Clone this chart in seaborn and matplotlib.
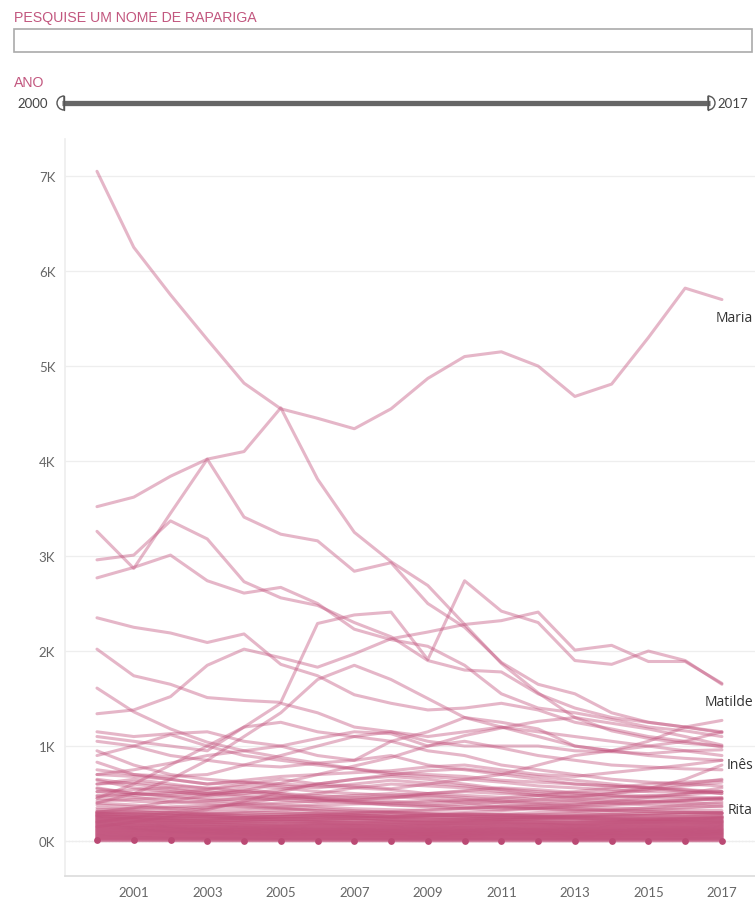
import pandas as pd
import numpy as np
import matplotlib.pyplot as plt
import seaborn as sns
from matplotlib.patches import Rectangle, Wedge

# anos e contagens (valores aproximados)
anos = list(range(2000, 2018))

maria = [7050, 6250, 5750, 5280, 4820, 4550, 4450, 4340, 4550, 4870, 5100, 5150, 5000, 4680, 4810, 5300, 5820, 5700]
ines = [3520, 3620, 3840, 4020, 4100, 4560, 3810, 3250, 2940, 2690, 2280, 1870, 1560, 1300, 1160, 1080, 1030, 1000]
matilde = [1340, 1380, 1520, 1850, 2020, 1930, 1830, 1970, 2130, 2200, 2280, 2320, 2410, 2010, 2060, 1890, 1890, 1660]
rita = [1610, 1360, 1180, 1040, 950, 880, 820, 760, 700, 680, 650, 620, 580, 560, 540, 520, 510, 520]

outros_altos = [
    [3260, 2870, 3450, 4020, 3410, 3230, 3160, 2840, 2930, 2500, 2250, 1880, 1650, 1550, 1350, 1250, 1200, 1150],
    [2960, 3010, 3370, 3180, 2730, 2560, 2480, 2300, 2150, 1900, 1800, 1780, 1550, 1400, 1300, 1250, 1200, 1140],
    [2770, 2880, 3010, 2740, 2610, 2670, 2500, 2230, 2120, 2050, 1850, 1550, 1400, 1350, 1280, 1200, 1160, 1100],
    [2350, 2250, 2190, 2090, 2180, 1860, 1740, 1540, 1450, 1380, 1400, 1450, 1380, 1250, 1180, 1100, 1050, 990],
    [2020, 1740, 1650, 1510, 1480, 1460, 2290, 2380, 2410, 1910, 2740, 2420, 2300, 1900, 1860, 2000, 1900, 1650],
]

outros_medios = [
    [1150, 1100, 1130, 1150, 1050, 1000, 1080, 1150, 1130, 1000, 1050, 980, 900, 850, 800, 780, 760, 750],
    [1100, 1050, 1000, 950, 1200, 1250, 1150, 1100, 1050, 950, 900, 800, 750, 700, 650, 620, 600, 580],
    [1050, 1000, 900, 850, 800, 780, 820, 850, 900, 800, 750, 700, 650, 600, 580, 560, 540, 500],
    [950, 800, 700, 650, 620, 600, 580, 560, 540, 500, 480, 460, 440, 420, 400, 380, 370, 360],
    [900, 1000, 1120, 1000, 900, 850, 800, 760, 720, 700, 680, 640, 620, 600, 580, 560, 540, 520],
    [830, 700, 650, 600, 640, 680, 700, 720, 740, 780, 800, 750, 700, 680, 720, 760, 800, 850],
    [450, 600, 800, 1000, 1200, 1450, 1350, 1200, 1150, 1100, 1150, 1200, 1100, 1000, 950, 1050, 1200, 1270],
    [400, 500, 650, 850, 1100, 1350, 1700, 1850, 1700, 1500, 1300, 1200, 1150, 1100, 1050, 1000, 950, 900],
    [700, 750, 820, 900, 950, 1000, 900, 850, 1050, 1150, 1300, 1250, 1180, 1000, 950, 900, 870, 850],
    [750, 700, 680, 700, 800, 900, 1000, 1100, 1150, 1050, 1000, 1000, 1000, 950, 940, 920, 950, 960],
    [300, 350, 420, 480, 530, 610, 700, 790, 880, 1000, 1110, 1190, 1260, 1300, 1240, 1180, 1100, 1010],
    [600, 650, 600, 550, 600, 650, 600, 580, 550, 600, 650, 700, 800, 900, 950, 1000, 1050, 1150],
    [650, 600, 550, 500, 520, 500, 480, 460, 450, 500, 520, 500, 480, 460, 500, 550, 650, 800],
    [550, 500, 480, 500, 550, 500, 450, 420, 400, 380, 360, 350, 340, 330, 320, 310, 300, 290],
]

outros_esparsos = [
    [700, 680, 650, 600, 620, 580, 560, 600, 640, 610, 580, 540, 500, 480, 470, 460, 450, 440],
    [640, 560, 520, 480, 500, 540, 600, 650, 700, 740, 760, 720, 680, 640, 600, 560, 520, 500],
    [600, 620, 580, 560, 520, 480, 450, 430, 420, 400, 420, 450, 480, 520, 560, 600, 620, 640],
    [560, 500, 470, 450, 430, 440, 460, 480, 500, 470, 440, 420, 400, 380, 390, 410, 430, 460],
    [520, 540, 560, 520, 480, 460, 430, 400, 380, 370, 390, 410, 440, 470, 500, 530, 580, 620],
    [480, 460, 420, 400, 380, 400, 420, 450, 470, 440, 400, 360, 340, 320, 330, 350, 380, 410],
    [450, 420, 400, 420, 450, 470, 440, 410, 380, 360, 340, 330, 350, 380, 420, 460, 500, 560],
    [420, 440, 460, 430, 400, 380, 360, 340, 330, 320, 340, 360, 380, 400, 410, 420, 430, 440],
    [400, 380, 350, 330, 340, 360, 380, 390, 400, 420, 430, 400, 380, 360, 350, 340, 330, 320],
    [380, 360, 340, 360, 380, 350, 320, 300, 310, 330, 350, 370, 360, 340, 320, 310, 300, 300],
    [350, 330, 320, 300, 310, 330, 340, 320, 300, 290, 300, 320, 340, 360, 380, 400, 420, 450],
    [330, 340, 360, 380, 360, 340, 320, 310, 300, 280, 270, 280, 300, 310, 320, 330, 350, 370],
    [200, 250, 300, 350, 400, 450, 500, 560, 600, 580, 560, 520, 480, 450, 430, 420, 400, 390],
    [150, 200, 260, 330, 420, 520, 600, 650, 680, 650, 600, 550, 520, 500, 520, 560, 600, 650],
    [520, 480, 500, 540, 580, 560, 520, 500, 480, 500, 530, 560, 540, 510, 480, 470, 490, 520],
    [470, 500, 520, 490, 460, 430, 410, 430, 460, 480, 460, 430, 410, 430, 460, 480, 470, 450],
]

outros_baixos = [
    [310, 295, 300, 285, 270, 280, 290, 275, 260, 270, 285, 270, 255, 265, 280, 290, 300, 295],
    [300, 310, 290, 270, 260, 255, 270, 290, 300, 285, 265, 250, 245, 255, 260, 270, 280, 290],
    [290, 275, 265, 280, 295, 300, 285, 270, 255, 245, 250, 265, 275, 285, 280, 265, 255, 260],
    [280, 285, 270, 255, 245, 260, 250, 240, 250, 265, 275, 280, 265, 250, 240, 235, 245, 255],
    [270, 260, 250, 260, 240, 230, 245, 260, 265, 250, 240, 230, 240, 250, 245, 230, 235, 245],
    [265, 250, 240, 230, 245, 255, 265, 250, 230, 220, 230, 245, 255, 240, 225, 220, 230, 240],
    [255, 245, 235, 240, 230, 220, 230, 240, 225, 215, 220, 230, 220, 210, 220, 230, 220, 225],
    [245, 235, 220, 210, 220, 235, 220, 210, 215, 205, 210, 220, 230, 220, 205, 200, 210, 215],
    [235, 225, 215, 220, 210, 200, 210, 220, 200, 190, 200, 210, 200, 190, 200, 210, 200, 205],
    [225, 215, 205, 195, 200, 210, 200, 190, 195, 185, 190, 200, 195, 185, 190, 200, 195, 200],
    [215, 205, 195, 200, 190, 180, 190, 185, 180, 175, 185, 190, 185, 175, 180, 185, 185, 190],
    [205, 195, 185, 180, 175, 170, 180, 175, 170, 165, 170, 180, 175, 165, 170, 175, 170, 180],
    [195, 185, 175, 175, 165, 160, 170, 165, 160, 155, 160, 170, 165, 155, 160, 165, 160, 170],
    [185, 170, 165, 160, 158, 150, 160, 155, 150, 145, 150, 158, 152, 145, 150, 155, 152, 160],
    [175, 165, 155, 150, 145, 142, 148, 145, 140, 135, 140, 148, 142, 135, 140, 145, 142, 150],
    [165, 155, 148, 140, 138, 132, 138, 135, 130, 126, 130, 138, 132, 126, 130, 135, 132, 140],
    [155, 145, 138, 132, 128, 124, 128, 125, 122, 118, 122, 128, 124, 118, 122, 126, 124, 130],
    [145, 136, 128, 124, 120, 116, 120, 118, 114, 110, 114, 120, 116, 110, 114, 118, 116, 122],
    [135, 128, 120, 116, 112, 108, 112, 110, 106, 102, 106, 112, 108, 102, 106, 110, 108, 114],
    [125, 118, 112, 108, 104, 100, 104, 102, 98, 95, 98, 104, 100, 95, 98, 102, 100, 106],
    [115, 110, 104, 100, 96, 92, 96, 94, 90, 88, 90, 96, 92, 88, 90, 94, 92, 98],
    [105, 100, 95, 92, 88, 85, 88, 86, 83, 80, 83, 88, 85, 80, 83, 86, 85, 90],
    [95, 90, 86, 84, 80, 78, 80, 78, 76, 73, 76, 80, 78, 73, 76, 78, 77, 82],
    [85, 82, 78, 76, 73, 70, 73, 71, 69, 66, 69, 73, 71, 66, 69, 71, 70, 75],
    [75, 72, 69, 67, 65, 62, 65, 63, 61, 59, 61, 65, 63, 59, 61, 63, 62, 67],
    [65, 62, 60, 58, 56, 54, 56, 55, 53, 51, 53, 56, 55, 51, 53, 55, 54, 58],
    [55, 53, 51, 49, 48, 46, 48, 47, 45, 44, 45, 48, 47, 44, 45, 47, 46, 50],
    [45, 43, 42, 40, 39, 38, 39, 38, 37, 36, 37, 39, 38, 36, 37, 38, 38, 41],
    [35, 34, 33, 32, 31, 30, 31, 30, 29, 28, 29, 31, 30, 28, 29, 30, 30, 32],
    [25, 24, 23, 23, 22, 21, 22, 21, 21, 20, 21, 22, 21, 20, 21, 21, 21, 23],
    [15, 15, 14, 14, 13, 13, 13, 13, 13, 12, 13, 13, 13, 12, 13, 13, 13, 14],
]

quase_zero = [6, 6, 6, 5, 5, 5, 5, 5, 5, 4, 4, 4, 4, 4, 4, 4, 5, 5]

ROSA = '#C2527C'
CINZA = '#666666'

# tabela longa
linhas = []
todas = {'Maria': maria, 'Inês': ines, 'Matilde': matilde, 'Rita': rita}
grupos = [('alto', outros_altos), ('medio', outros_medios),
          ('esparso', outros_esparsos), ('baixo', outros_baixos)]
for g, lst in grupos:
    for i, s in enumerate(lst):
        todas[f'{g}_{i}'] = s
todas['zero'] = quase_zero
for nome, vals in todas.items():
    for a, v in zip(anos, vals):
        linhas.append({'nome': nome, 'ano': a, 'n': v,
                       'baixo': nome.startswith('baixo') or nome == 'zero'})
df = pd.DataFrame(linhas)

sns.set_theme(style='white')
plt.rcParams['font.family'] = ['Lato', 'DejaVu Sans']

fig = plt.figure(figsize=(7.55, 9.04), dpi=100)

# cabeçalho (filtros) em coordenadas de pixel
hdr = fig.add_axes([0, 0, 1, 1])
hdr.set_xlim(0, 755)
hdr.set_ylim(904, 0)
hdr.axis('off')
hdr.text(14, 18, 'PESQUISE UM NOME DE RAPARIGA', color='#C2577F', fontsize=10.2,
         va='center', ha='left', family='Liberation Sans')
hdr.add_patch(Rectangle((14, 30), 738, 23, fc='white', ec='#aaaaaa', lw=1.2))
hdr.text(14, 83, 'ANO', color='#C2577F', fontsize=10.2, va='center', ha='left',
         family='Liberation Sans')
hdr.plot([62, 710], [104, 104], color=CINZA, lw=3.8, solid_capstyle='butt')
hdr.add_patch(Wedge((64, 104), 7, 90, 270, fc='white', ec='#555555', lw=1))
hdr.plot([64, 64], [97, 111], color='#555555', lw=1)
hdr.add_patch(Wedge((708, 104), 7, -90, 90, fc='white', ec='#555555', lw=1))
hdr.plot([708, 708], [97, 111], color='#555555', lw=1)
hdr.text(48, 104, '2000', color='#444444', fontsize=9.5, va='center', ha='right')
hdr.text(717, 104, '2017', color='#444444', fontsize=9.5, va='center', ha='left')

# gráfico principal
ax = fig.add_axes([65 / 755, 27 / 904, 690 / 755, 737 / 904])
ax.set_facecolor('none')
sns.lineplot(data=df[~df['baixo']], x='ano', y='n', units='nome', estimator=None,
             color=ROSA, alpha=0.42, lw=2.2, legend=False, ax=ax)
sns.lineplot(data=df[df['baixo']], x='ano', y='n', units='nome', estimator=None,
             color=ROSA, alpha=0.55, lw=2.6, legend=False, ax=ax)
sns.scatterplot(x=anos, y=quase_zero, color='#BA4A74', s=24, linewidth=0, ax=ax, zorder=5)

ax.axhline(0, color='#999999', lw=0.8, ls=(0, (1, 2)), zorder=0)
ax.set_xlim(1999.13, 2017.9)
ax.set_ylim(-368, 7390)
ax.set_yticks(range(0, 8000, 1000))
ax.set_yticklabels([f'{k}K' for k in range(8)])
ax.set_xticks(anos)
ax.set_xticklabels([str(a) if a % 2 == 1 else '' for a in anos])
ax.grid(axis='y', color='#eeeeee', lw=0.9, zorder=0)
ax.set_axisbelow(True)
ax.set_xlabel('')
ax.set_ylabel('')
ax.tick_params(axis='y', length=0, pad=7, labelsize=9.5, labelcolor='#666666')
ax.tick_params(axis='x', length=4, width=0.8, color='#dddddd', pad=3,
               labelsize=9.5, labelcolor='#666666')
for s in ['top', 'right']:
    ax.spines[s].set_visible(False)
ax.spines['left'].set_color('#eeeeee')
ax.spines['bottom'].set_color('#dddddd')

for nome in ['Maria', 'Matilde', 'Inês', 'Rita']:
    ax.annotate(nome, xy=(anos[-1], todas[nome][-1]), xytext=(31, -18),
                textcoords='offset pixels', ha='right', va='center',
                fontsize=10, color='#333333', family='Open Sans')

fig.savefig('out.png', dpi=100)
